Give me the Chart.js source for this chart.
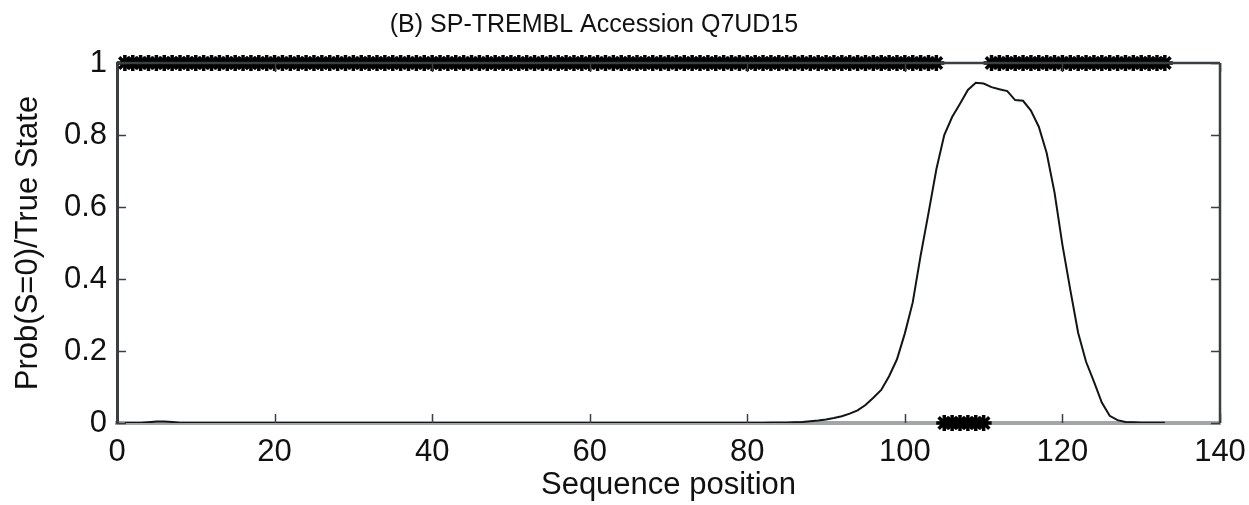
<!DOCTYPE html>
<html>
<head>
<meta charset="utf-8">
<script src="https://cdn.jsdelivr.net/npm/chart.js@4.4.1/dist/chart.umd.min.js"></script>
<style>
html,body{margin:0;padding:0;background:#fff;}
#wrap{width:1249px;height:505px;}
</style>
</head>
<body>
<div id="wrap"><canvas id="c" width="1249" height="505"></canvas></div>
<script>
const titleText = '(B) SP-TREMBL Accession Q7UD15';
const xAxisLabel = 'Sequence position';
const yAxisLabel = 'Prob(S=0)/True State';
const xTickValues = [0, 20, 40, 60, 80, 100, 120, 140];
const xTickLabels = ['0', '20', '40', '60', '80', '100', '120', '140'];
const yTickValues = [0, 0.2, 0.4, 0.6, 0.8, 1];
const yTickLabels = ['0', '0.2', '0.4', '0.6', '0.8', '1'];

// Prob(S=0) for sequence positions 1..133
const probS0 = [
  0, 0, 0, 0.002, 0.004, 0.004, 0.003, 0, 0, 0,
  0, 0, 0, 0, 0, 0, 0, 0, 0, 0,
  0, 0, 0, 0, 0, 0, 0, 0, 0, 0,
  0, 0, 0, 0, 0, 0, 0, 0, 0, 0,
  0, 0, 0, 0, 0, 0, 0, 0, 0, 0,
  0, 0, 0, 0, 0, 0, 0, 0, 0, 0,
  0, 0, 0, 0, 0, 0, 0, 0, 0, 0,
  0, 0, 0, 0, 0, 0, 0, 0, 0, 0,
  0, 0, 0.001, 0.001, 0.001, 0.002, 0.003, 0.005, 0.007, 0.010,
  0.014, 0.019, 0.026, 0.035, 0.05, 0.07, 0.092, 0.13, 0.177, 0.249,
  0.335, 0.465, 0.583, 0.705, 0.80, 0.85, 0.887, 0.925, 0.945, 0.943,
  0.933, 0.927, 0.922, 0.897, 0.895, 0.868, 0.823, 0.75, 0.64, 0.495,
  0.37, 0.25, 0.17, 0.115, 0.057, 0.02, 0.008, 0.003, 0.002, 0.001,
  0.001, 0.001, 0.001
];

// True state for sequence positions 1..133
const trueState = [
  1, 1, 1, 1, 1, 1, 1, 1, 1, 1,
  1, 1, 1, 1, 1, 1, 1, 1, 1, 1,
  1, 1, 1, 1, 1, 1, 1, 1, 1, 1,
  1, 1, 1, 1, 1, 1, 1, 1, 1, 1,
  1, 1, 1, 1, 1, 1, 1, 1, 1, 1,
  1, 1, 1, 1, 1, 1, 1, 1, 1, 1,
  1, 1, 1, 1, 1, 1, 1, 1, 1, 1,
  1, 1, 1, 1, 1, 1, 1, 1, 1, 1,
  1, 1, 1, 1, 1, 1, 1, 1, 1, 1,
  1, 1, 1, 1, 1, 1, 1, 1, 1, 1,
  1, 1, 1, 1, 0, 0, 0, 0, 0, 0,
  1, 1, 1, 1, 1, 1, 1, 1, 1, 1,
  1, 1, 1, 1, 1, 1, 1, 1, 1, 1,
  1, 1, 1
];

const positions = probS0.map((_, i) => i + 1);
const probPoints = positions.map((p, i) => ({x: p, y: probS0[i]}));
const statePoints = positions.map((p, i) => ({x: p, y: trueState[i]}));

const FONT = "'Liberation Sans', Arial, Helvetica, sans-serif";
const AXIS_DARK = '#3a3f40';

const framePlugin = {
  id: 'frame',
  afterLayout(chart) {
    // shift the title centre to match the original figure
    if (chart.titleBlock) {
      chart.titleBlock.left = 0;
      chart.titleBlock.right = 1188;
    }
  },
  afterDraw(chart) {
    const {ctx, chartArea: a, scales} = chart;
    const xs = scales.x, ys = scales.y;
    const L = 9;
    ctx.save();
    ctx.strokeStyle = AXIS_DARK;
    ctx.lineWidth = 1.5;
    ctx.beginPath();
    xs.ticks.forEach(t => {
      const px = Math.round(xs.getPixelForValue(t.value)) + 0.5;
      ctx.moveTo(px, a.bottom); ctx.lineTo(px, a.bottom - L);
      ctx.moveTo(px, a.top); ctx.lineTo(px, a.top + L);
    });
    ys.ticks.forEach(t => {
      const py = Math.round(ys.getPixelForValue(t.value)) + 0.5;
      ctx.moveTo(a.left, py); ctx.lineTo(a.left + L, py);
      ctx.moveTo(a.right, py); ctx.lineTo(a.right - L, py);
    });
    ctx.stroke();
    ctx.lineWidth = 2.5;
    ctx.beginPath();
    ctx.moveTo(a.left, a.top); ctx.lineTo(a.right, a.top);
    ctx.moveTo(a.right, a.top); ctx.lineTo(a.right, a.bottom);
    ctx.stroke();
    ctx.restore();
  }
};

new Chart(document.getElementById('c'), {
  type: 'scatter',
  data: {
    datasets: [
      {
        label: 'Prob(S=0)',
        data: probPoints,
        showLine: true,
        borderColor: '#111516',
        borderWidth: 2,
        pointRadius: 0,
        tension: 0,
        fill: false
      },
      {
        label: 'True State',
        data: statePoints,
        showLine: false,
        pointStyle: 'star',
        pointRadius: 8,
        pointBorderWidth: 3.5,
        pointBorderColor: '#000',
        pointBackgroundColor: '#000',
        clip: false
      }
    ]
  },
  options: {
    responsive: false,
    animation: false,
    devicePixelRatio: 1,
    layout: {padding: {left: 0, right: 29, top: 0, bottom: 0}},
    plugins: {
      legend: {display: false},
      tooltip: {enabled: false},
      title: {
        display: true,
        text: titleText,
        color: '#111',
        font: {family: FONT, size: 25, weight: 'normal', lineHeight: 1.2},
        padding: {top: 10, bottom: 23}
      }
    },
    scales: {
      x: {
        type: 'linear',
        min: 0,
        max: 140,
        afterFit(s) { s.height = 82; s.paddingLeft = 0; s.paddingRight = 0; },
        afterBuildTicks(s) { s.ticks = xTickValues.map(v => ({value: v})); },
        ticks: {
          color: '#111',
          font: {family: FONT, size: 31},
          padding: 11,
          maxRotation: 0,
          autoSkip: false,
          callback: (v, i) => xTickLabels[i]
        },
        grid: {drawOnChartArea: false, drawTicks: false},
        border: {display: true, color: '#a2a6a6', width: 4},
        title: {
          display: true,
          text: xAxisLabel,
          color: '#111',
          font: {family: FONT, size: 31},
          padding: {top: 0, bottom: 1}
        }
      },
      y: {
        type: 'linear',
        min: 0,
        max: 1,
        afterFit(s) { s.width = 117; s.paddingTop = 0; s.paddingBottom = 0; },
        afterBuildTicks(s) { s.ticks = yTickValues.map(v => ({value: v})); },
        ticks: {
          color: '#111',
          font: {family: FONT, size: 31},
          padding: 10,
          autoSkip: false,
          callback: (v, i) => yTickLabels[i]
        },
        grid: {drawOnChartArea: false, drawTicks: false},
        border: {display: true, color: AXIS_DARK, width: 3},
        title: {
          display: true,
          text: yAxisLabel,
          color: '#111',
          font: {family: FONT, size: 31},
          padding: {top: 10, bottom: 0}
        }
      }
    }
  },
  plugins: [framePlugin]
});
</script>
</body>
</html>
